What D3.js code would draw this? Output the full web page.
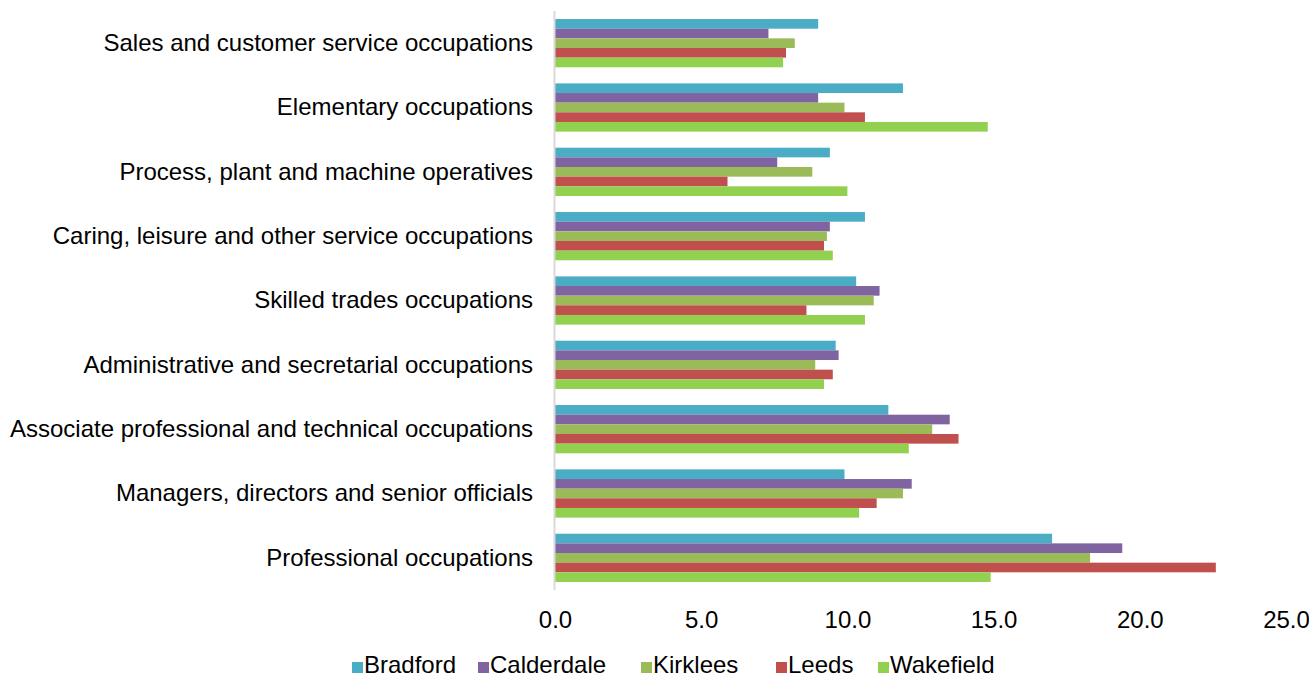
<!DOCTYPE html>
<html><head><meta charset="utf-8">
<script src="https://cdn.jsdelivr.net/npm/d3@7/dist/d3.min.js"></script>
<style>body{margin:0;background:#fff}svg{display:block}text{font-family:"Liberation Sans",Arial,sans-serif;fill:#000}</style>
</head><body><svg id="c" width="1309" height="679"></svg>
<script>
const categories = ["Sales and customer service occupations","Elementary occupations","Process, plant and machine operatives","Caring, leisure and other service occupations","Skilled trades occupations","Administrative and secretarial occupations","Associate professional and technical occupations","Managers, directors and senior officials","Professional occupations"];
const seriesNames = ["Bradford","Calderdale","Kirklees","Leeds","Wakefield"];
const colors = ["#4BACC6","#8064A2","#9BBB59","#C0504D","#92D050"];
const bradford   = [9.0, 11.9, 9.4, 10.6, 10.3, 9.6, 11.4, 9.9, 17.0];
const calderdale = [7.3, 9.0, 7.6, 9.4, 11.1, 9.7, 13.5, 12.2, 19.4];
const kirklees   = [8.2, 9.9, 8.8, 9.3, 10.9, 8.9, 12.9, 11.9, 18.3];
const leeds      = [7.9, 10.6, 5.9, 9.2, 8.6, 9.5, 13.8, 11.0, 22.6];
const wakefield  = [7.8, 14.8, 10.0, 9.5, 10.6, 9.2, 12.1, 10.4, 14.9];
const tickValues = [0, 5, 10, 15, 20, 25];
const allSeries = [bradford, calderdale, kirklees, leeds, wakefield];
const FS = "24px";

const svg = d3.select("#c");
const x = d3.scaleLinear().domain([0, 25]).range([555, 1286]);
const y = d3.scaleBand().domain(categories).range([11, 590]).paddingInner(0.25).paddingOuter(0.125);
const yi = d3.scaleBand().domain(seriesNames).range([0, y.bandwidth()]);

const g = svg.append("g");
categories.forEach((c, ci) => {
  seriesNames.forEach((s, si) => {
    g.append("rect")
      .attr("x", x(0))
      .attr("y", y(c) + yi(s))
      .attr("width", x(allSeries[si][ci]) - x(0))
      .attr("height", yi.bandwidth())
      .attr("fill", colors[si]);
  });
});

svg.append("line").attr("x1", 554.5).attr("x2", 554.5).attr("y1", 11).attr("y2", 590)
  .attr("stroke", "#D9D9D9").attr("stroke-width", 2);

const yAxis = d3.axisLeft(y).tickSize(0).tickPadding(0);
const ya = svg.append("g").attr("transform", "translate(533,0)").call(yAxis);
ya.select(".domain").remove();
ya.selectAll("text").style("font-size", FS).attr("fill", "#000").attr("font-family", "Liberation Sans, Arial, sans-serif");

const xAxis = d3.axisBottom(x).tickValues(tickValues).tickFormat(d3.format(".1f")).tickSize(0).tickPadding(0);
const xa = svg.append("g").attr("transform", "translate(0,611)").call(xAxis);
xa.select(".domain").remove();
xa.selectAll("text").style("font-size", FS).attr("fill", "#000").attr("dy", "0.71em").attr("font-family", "Liberation Sans, Arial, sans-serif");

const legendX = [352, 478, 641, 776, 878];
const lg = svg.append("g");
seriesNames.forEach((s, i) => {
  lg.append("rect").attr("x", legendX[i]).attr("y", 662).attr("width", 11).attr("height", 11).attr("fill", colors[i]);
  lg.append("text").attr("x", legendX[i] + 12).attr("y", 673).text(s).style("font-size", FS);
});
</script></body></html>
